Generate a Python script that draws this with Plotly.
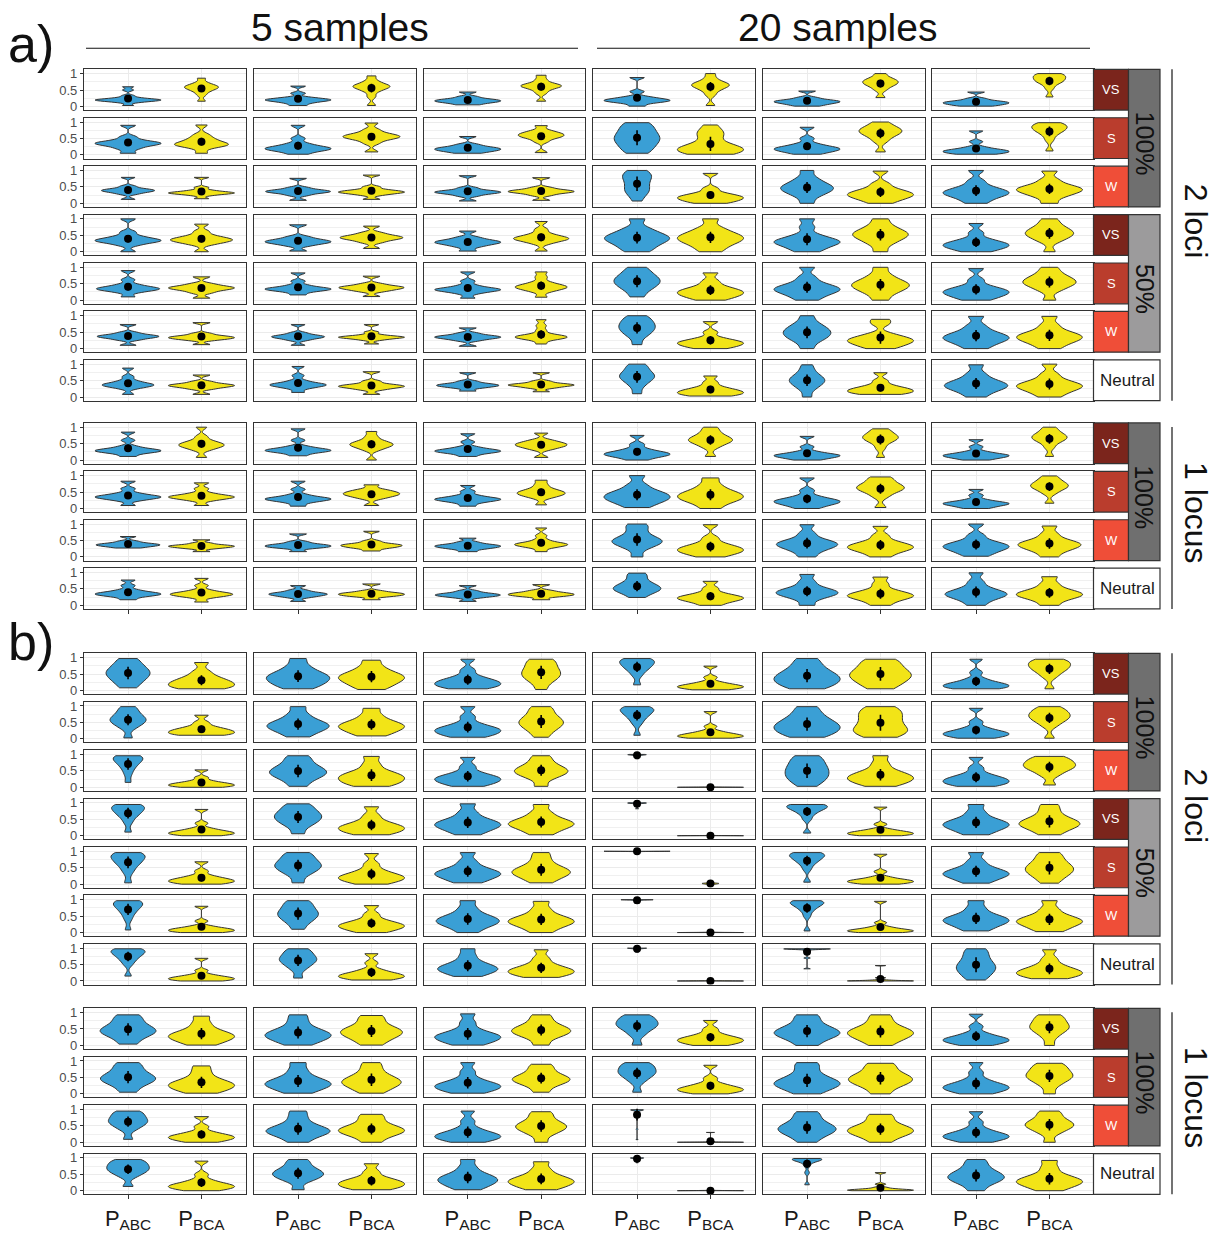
import numpy as np
import plotly.graph_objects as go

W, H = 1215, 1237

# ---------------- labels ----------------
SAMPLE_SIZES = ["5 samples", "20 samples"]
PANEL_LABELS = ["a)", "b)"]
LOCI_LABELS = ["2 loci", "1 locus"]
STRENGTH_2LOCI = ["VS", "S", "W", "VS", "S", "W", "Neutral"]
MIGRATION_2LOCI = [("100%", 0, 2), ("50%", 3, 5)]
STRENGTH_1LOCUS = ["VS", "S", "W", "Neutral"]
MIGRATION_1LOCUS = [("100%", 0, 2)]
X_TICKS = ["P<sub>ABC</sub>", "P<sub>BCA</sub>"]

# ---------------- data (values in hundredths, representative draws per violin) ----------------
# a) 2 loci : rows VS100, S100, W100, VS50, S50, W50, Neutral ; 6 columns
A2_ABC = [
    ["3 12 15 17 18 19 20 21 22 24 27 33 50 60", "3 10 14 17 19 20 22 24 28 40 62", "5 10 13 15 17 19 21 24 30 44", "1 10 14 16 18 20 22 25 30 45 88", "1 6 9 12 14 16 18 21 27 47", "1 4 7 9 11 13 15 18 24 44"],
    ["5 18 25 30 33 35 37 40 45 55 90", "2 10 14 17 19 21 24 28 35 50 90", "5 10 13 15 18 20 22 26 32 56", "5 15 25 35 42 48 55 62 70 80 90 98", "2 8 12 15 18 20 23 27 34 50 84", "2 4 7 9 11 13 15 18 24 40 73"],
    ["12 28 33 36 38 40 42 45 52 79", "9 24 30 33 35 37 39 42 48 76", "7 22 28 31 33 35 37 40 47 84", "7 28 35 42 52 62 72 80 86 92 100", "0 20 30 37 42 47 52 58 66 78 100", "0 12 20 26 30 34 38 44 52 68 100"],
    ["0 20 27 31 33 35 38 42 48 60 100", "2 18 24 27 30 32 35 39 46 82", "2 15 21 25 28 30 33 37 44 63", "0 12 22 30 36 41 46 52 60 72 100", "0 10 18 24 28 32 36 42 52 75 100", "0 7 12 16 20 23 27 32 40 58 86"],
    ["10 24 29 32 34 36 38 42 48 62 90", "16 25 29 32 33 35 37 40 46 58 83", "6 20 26 29 31 33 35 38 45 58 86", "10 28 38 46 52 58 64 70 78 88 100", "0 12 20 26 31 35 39 45 54 70 100", "0 8 14 19 23 27 31 36 44 62 96"],
    ["10 26 31 34 36 38 40 43 49 73", "10 25 30 33 35 37 39 42 48 73", "7 24 29 32 34 36 38 41 47 63", "12 35 45 53 59 65 71 77 84 92 100", "0 20 30 37 43 49 55 61 69 80 100", "0 12 20 26 31 35 40 46 55 70 98"],
    ["8 26 31 34 36 38 40 44 50 62 88", "14 26 31 34 36 38 40 43 50 65 93", "18 27 31 33 35 37 39 42 48 74", "10 32 44 52 58 63 68 74 82 92 100", "0 22 33 40 46 51 56 62 70 82 98", "0 14 22 28 33 37 42 48 57 72 98"],
]
A2_BCA = [
    ["16 35 45 50 55 57 60 62 66 72 86", "3 30 45 52 57 60 62 65 70 78 93", "16 40 50 56 60 62 64 67 72 82 95", "3 35 48 55 60 64 67 70 75 85 100", "27 50 60 66 70 74 78 82 88 100", "29 55 68 74 78 82 86 90 94 98 100"],
    ["5 22 28 30 32 35 40 45 52 62 91", "9 35 45 50 53 56 58 62 67 77 97", "7 40 50 54 58 61 64 68 74 89", "2 6 10 13 16 19 23 28 35 55 65 72 91", "9 40 52 60 65 70 74 78 83 90 100", "12 45 60 68 74 78 82 86 90 94 98"],
    ["14 24 28 30 31 32 34 36 40 48 79", "12 25 30 32 34 36 38 42 50 86", "9 24 30 33 35 37 39 42 48 78", "0 5 9 13 16 19 22 26 32 45 91", "0 10 16 21 25 29 33 38 46 60 98", "0 18 27 33 38 42 46 51 58 72 98"],
    ["0 22 28 32 35 37 40 44 50 62 84", "10 28 35 39 42 44 47 51 58 78", "2 25 32 36 39 41 44 48 55 68 92", "0 14 24 31 37 42 47 53 61 73 100", "0 22 33 41 47 52 57 63 70 82 100", "0 30 40 47 52 57 62 68 75 86 100"],
    ["6 22 29 33 36 38 40 44 50 71", "11 26 31 34 37 39 41 44 50 73", "9 26 32 36 39 41 44 48 55 70 86", "0 8 13 18 22 26 30 35 43 58 83", "0 18 28 35 41 46 51 57 65 78 100", "0 28 39 46 51 56 61 67 74 85 100"],
    ["12 25 29 31 33 35 37 40 46 79", "14 26 30 32 34 35 36 38 42 50 73", "14 27 31 33 35 37 39 42 55 70 88", "0 5 9 13 16 19 22 26 33 50 82", "0 8 14 19 23 27 31 36 45 75 89", "0 13 21 27 32 37 41 47 56 72 98"],
    ["8 24 29 32 34 36 38 41 47 67", "8 22 27 30 32 34 36 40 48 77", "16 27 31 34 36 37 39 42 48 74", "3 6 9 12 15 18 21 25 32 45 64", "8 11 14 17 20 23 26 30 37 50 74", "0 12 20 26 31 35 39 45 54 70 100"],
]
# a) 1 locus : rows VS, S, W, Neutral
A1_ABC = [
    ["11 20 24 26 28 30 32 35 42 60 85", "13 21 25 27 29 31 33 36 42 60 95", "11 19 23 25 27 29 31 34 40 55 80", "0 8 12 15 18 20 23 27 34 48 75", "0 5 8 11 13 15 17 20 26 40 72", "0 5 8 11 13 15 17 20 26 40 62"],
    ["9 24 29 32 34 36 38 41 47 60 83", "7 18 23 26 28 30 32 35 42 58 83", "7 17 22 25 27 29 31 34 40 52 70", "3 15 22 28 33 38 43 49 57 72 100", "0 8 13 17 20 23 26 30 38 55 93", "0 5 9 12 14 16 18 21 27 40 58"],
    ["27 31 33 35 37 38 40 43 48 62", "16 26 29 31 33 35 37 40 46 70", "16 24 27 30 32 34 36 39 45 57", "0 25 35 41 46 50 55 62 75 90 100", "0 15 24 30 35 39 43 48 56 72 98", "2 12 19 25 29 33 37 42 50 66 100"],
    ["17 26 30 32 34 36 38 41 47 60 77", "12 24 28 31 33 35 37 40 46 60", "12 23 27 29 31 33 35 38 44 60", "24 36 42 47 51 55 60 66 75 88 98", "0 18 27 32 36 40 44 49 57 72 94", "0 14 22 28 32 36 40 46 55 72 99"],
]
A1_BCA = [
    ["8 30 37 41 44 47 50 54 60 72 100", "0 30 37 42 45 48 51 55 61 72 87", "8 32 38 42 45 48 51 55 61 82", "11 38 48 54 58 62 66 71 78 88 100", "8 35 50 58 63 67 71 75 80 88 95", "11 38 52 59 64 68 72 76 82 90 100"],
    ["9 24 29 32 34 36 38 41 47 60 78", "9 30 36 40 43 46 49 53 58 72", "11 32 38 42 45 48 51 55 61 72 86", "0 15 23 29 34 39 44 50 58 72 93", "3 35 47 54 59 63 67 72 79 88 96", "16 45 55 61 65 69 73 77 83 90 99"],
    ["16 25 28 30 32 33 35 37 42 52", "18 26 29 32 34 36 38 41 48 78", "16 28 32 35 37 39 41 44 52 65 88", "0 8 13 17 21 25 29 34 42 58 98", "0 12 19 24 28 32 36 41 49 65 93", "0 15 23 29 34 38 42 47 55 70 94"],
    ["10 24 28 31 33 35 37 40 46 60 82", "17 26 29 31 33 35 37 39 44 65", "17 26 29 31 33 35 37 40 45 63", "0 9 14 18 21 24 27 31 38 52 73", "0 12 19 24 28 31 35 40 48 65 86", "0 14 22 27 31 35 39 44 52 66 87"],
]
# b) 2 loci
B2_ABC = [
    ["8 22 32 40 47 53 59 66 74 85 97", "5 15 22 29 35 40 46 52 61 75 97", "5 10 14 18 22 26 30 35 44 62 95", "17 45 58 66 72 77 82 87 91 95 97", "5 14 22 29 35 41 48 56 66 80 97", "5 7 10 13 16 19 22 27 36 55 95"],
    ["3 32 42 49 54 59 64 70 78 88 98", "6 18 26 32 37 42 47 53 62 76 98", "5 11 16 21 25 29 33 38 48 68 98", "11 45 58 67 73 79 84 88 92 95 98", "5 14 22 29 35 41 48 56 66 80 98", "2 6 10 13 16 19 22 27 35 52 93"],
    ["15 40 55 65 72 78 83 88 92 95 96", "3 20 30 37 43 48 54 61 70 83 96", "3 10 15 20 24 28 32 37 46 64 91", "87 95 97 98 98 99 99 99 100 100 100", "3 18 26 34 42 50 58 66 76 88 96", "3 8 12 16 20 24 28 33 42 60 91"],
    ["11 40 55 63 70 75 80 85 89 93 95", "6 28 38 46 52 58 64 70 78 88 97", "3 14 21 27 32 36 41 47 56 72 97", "82 95 97 98 99 99 99 100 100 100 100", "8 50 64 72 78 82 86 89 92 94 95", "3 14 21 27 32 36 41 47 56 72 95"],
    ["4 35 50 60 67 73 79 84 89 93 96", "4 28 38 46 52 57 63 70 78 88 96", "4 13 20 26 30 34 39 45 54 70 96", "99 100 100 100 100 100 100 100 100 100 100", "6 45 60 68 74 79 84 88 91 94 96", "3 13 20 26 30 34 39 45 54 70 96"],
    ["8 40 55 65 72 78 83 88 92 95 97", "10 28 38 46 52 58 64 71 80 90 97", "0 14 22 28 33 38 43 49 58 74 97", "90 96 98 99 99 100 100 100 100 100 100", "5 50 65 73 79 84 88 91 94 96 97", "5 16 24 30 35 39 44 50 59 75 97"],
    ["15 50 62 70 76 81 86 90 93 96 98", "9 35 46 54 60 65 70 76 83 92 98", "14 22 28 33 37 41 46 52 62 78 98", "88 95 97 98 99 99 100 100 100 100 100", "37 70 92 96 97 97 98 98 98 98 98", "3 15 25 34 40 46 54 64 76 90 98"],
]
B2_BCA = [
    ["5 8 12 17 21 25 30 36 44 58 85", "3 14 22 29 35 40 45 51 59 72 92", "3 25 35 42 49 55 62 70 80 90 95", "2 5 8 10 12 14 17 20 26 40 74", "5 18 28 36 43 49 56 64 74 86 95", "5 40 52 60 66 71 76 81 86 91 95"],
    ["11 13 16 19 22 25 28 32 38 50 72", "9 18 25 31 36 40 45 51 59 73 93", "5 22 32 40 46 52 58 65 75 88 98", "2 4 6 8 10 12 15 18 24 38 83", "5 15 22 28 36 46 58 68 78 88 98", "2 38 50 57 63 68 73 78 84 91 98"],
    ["0 2 4 6 8 10 12 15 20 30 53", "3 10 16 22 27 32 37 43 52 70 94", "3 25 35 41 46 51 56 62 70 82 96", "0 0 0 0 0 0 0 0 0 0 1", "3 12 18 23 28 33 38 44 54 72 96", "7 35 47 55 60 65 70 75 81 88 94"],
    ["0 3 5 7 9 11 14 17 23 38 80", "3 9 14 19 23 27 31 37 46 62 88", "3 15 23 29 34 38 43 49 58 72 95", "0 0 0 0 0 0 0 0 0 0 2", "0 2 4 6 8 10 12 15 20 35 87", "3 16 24 30 35 40 45 52 62 78 95"],
    ["0 3 6 8 11 13 16 20 26 40 68", "0 7 12 16 20 24 28 34 44 62 93", "4 16 24 30 35 40 45 52 62 78 96", "0 0 1 1 2 2 2 3 3 4 5", "0 3 5 7 9 11 13 16 22 38 91", "3 18 28 36 42 48 55 62 72 85 96"],
    ["0 2 4 6 8 10 12 15 20 35 80", "0 7 12 16 20 23 27 32 40 56 82", "0 13 21 27 32 36 41 47 56 72 95", "0 0 0 0 0 0 0 0 0 0 1", "0 2 3 5 6 8 10 13 18 30 95", "3 13 21 27 32 36 41 47 56 72 97"],
    ["0 2 4 6 8 10 12 15 20 32 69", "3 7 10 13 16 19 22 27 35 55 83", "11 17 22 26 30 34 38 44 54 70 95", "0 0 0 0 0 0 0 0 0 0 1", "0 0 0 0 0 1 1 2 3 10 47", "7 13 18 22 26 30 35 41 51 68 95"],
]
# b) 1 locus
B1_ABC = [
    ["4 20 30 37 42 47 53 60 70 82 93", "1 12 19 25 30 35 40 47 57 74 93", "1 9 15 20 25 29 33 39 50 70 96", "1 30 43 52 58 63 68 74 80 88 93", "0 15 24 31 36 41 47 54 63 78 93", "0 6 10 14 17 20 24 29 38 58 95"],
    ["5 22 32 39 44 49 55 62 72 84 95", "2 12 19 25 29 34 39 46 56 73 95", "2 9 14 19 23 27 31 37 48 68 95", "5 35 47 55 61 66 71 77 84 90 95", "0 12 20 26 31 36 42 50 62 80 95", "0 7 12 16 20 24 28 34 45 66 95"],
    ["9 38 48 55 60 65 70 76 83 90 95", "0 14 22 28 33 37 42 49 59 76 95", "0 7 11 15 19 23 27 33 44 65 95", "8 40 92 96 97 98 98 99 99 99 99", "0 16 25 32 38 43 49 56 66 80 93", "0 7 11 15 19 22 26 32 42 62 93"],
    ["13 42 52 58 63 68 73 78 84 90 95", "3 28 37 43 48 53 58 64 72 84 95", "3 13 20 26 31 36 41 47 56 72 95", "85 93 96 97 98 99 99 100 100 100 100", "18 55 75 85 90 93 95 96 97 98 98", "0 18 27 34 39 44 50 57 66 80 95"],
]
B1_BCA = [
    ["1 10 17 22 27 31 36 42 52 68 89", "1 15 24 31 37 42 47 54 63 78 91", "1 20 30 36 41 46 51 57 65 78 93", "0 5 9 13 16 19 23 27 35 50 76", "0 14 22 29 35 40 45 52 61 76 93", "0 25 38 46 52 57 63 70 78 87 93"],
    ["2 10 16 21 26 30 35 41 51 67 85", "2 14 22 29 34 39 45 52 62 78 95", "5 22 31 37 42 46 51 57 66 78 90", "0 5 8 11 14 17 20 25 32 48 87", "0 18 28 35 41 46 52 59 68 82 93", "0 25 37 45 51 56 62 69 77 86 93"],
    ["0 5 9 12 15 18 21 25 32 48 78", "0 15 23 29 34 38 43 49 58 72 85", "0 22 32 39 44 49 54 60 69 82 93", "0 0 0 0 0 0 0 0 1 2 30", "0 14 22 28 33 38 43 49 58 72 85", "0 26 37 44 49 54 59 65 73 85 95"],
    ["0 5 8 11 14 17 20 25 33 50 90", "3 8 13 17 21 25 29 34 42 58 82", "3 11 17 23 27 31 36 42 51 66 88", "0 0 0 0 0 0 0 0 0 0 1", "0 0 1 1 2 3 4 6 10 20 55", "0 10 17 22 27 31 36 42 52 70 92"],
]

# ---------------- styling ----------------
FONT = "Liberation Sans, Arial, Helvetica, sans-serif"
BLUE = "#3A9FD5"
YELLOW = "#F2E417"
OUTLINE = "#333333"
STRIP_COL = {"VS": "#7B251C", "S": "#BA3D2D", "W": "#EF4E38", "Neutral": "#FFFFFF"}
GROUP_COL = {"100%": "#6F6F6F", "50%": "#9C9B9C"}

COL_LEFT = [84, 254, 423.7, 593, 763, 932]
PW, PH, PITCH = 161.5, 41, 48.7
N_EFF = 60  # smoothing reference size for the kernel bandwidth
BLOCKS = [
    (A2_ABC, A2_BCA, 66.7, STRENGTH_2LOCI, MIGRATION_2LOCI, LOCI_LABELS[0], 219, False),
    (A1_ABC, A1_BCA, 422.3, STRENGTH_1LOCUS, MIGRATION_1LOCUS, LOCI_LABELS[1], 512, True),
    (B2_ABC, B2_BCA, 654.0, STRENGTH_2LOCI, MIGRATION_2LOCI, LOCI_LABELS[0], 807, False),
    (B1_ABC, B1_BCA, 1011.0, STRENGTH_1LOCUS, MIGRATION_1LOCUS, LOCI_LABELS[1], 1100, True),
]


def fx(px):
    return px / W


def fy(py):
    return 1 - py / H


def vals(s):
    return np.sort(np.array(s.split(), dtype=float) / 100.0)


def bandwidth(v):
    sd = v.std(ddof=1)
    q1, q3 = np.percentile(v, [25, 75])
    bw = 1.059 * min(sd, (q3 - q1) / 1.349) * N_EFF ** -0.2
    return max(bw, (v.max() - v.min()) / 100, 0.004)


def peak_density(v, bw):
    t = np.linspace(v.min(), v.max(), 500)
    d = np.exp(-0.5 * ((t[:, None] - v[None, :]) / bw) ** 2).sum(1) / (len(v) * bw * np.sqrt(2 * np.pi))
    return d.max()


def ann(x, y, text, size, color, angle=0, xanchor="center"):
    return dict(x=fx(x), y=fy(y), xref="paper", yref="paper", text=text, showarrow=False,
                textangle=angle, xanchor=xanchor, yanchor="middle",
                font=dict(family=FONT, size=size, color=color))


fig = go.Figure()
layout = {}
shapes = []
annotations = []
n = 0
total_rows = sum(len(b[0]) for b in BLOCKS)
g = 0
for bi, (abc_rows, bca_rows, top0, strengths, migr, loci_lab, loci_y, tick_bottom) in enumerate(BLOCKS):
    nrows = len(abc_rows)
    for r in range(nrows):
        top = top0 + r * PITCH
        last_row = (g == total_rows - 1)
        for c in range(6):
            n += 1
            xs = "" if n == 1 else str(n)
            left = COL_LEFT[c]
            layout["xaxis" + xs] = dict(
                domain=[fx(left), fx(left + PW)], anchor="y" + xs, type="linear",
                range=[-0.6, 1.6], tickvals=[0, 1], ticktext=X_TICKS,
                showticklabels=last_row, ticks="outside" if (tick_bottom and r == nrows - 1) else "",
                ticklen=4, tickwidth=1, tickcolor=OUTLINE,
                tickfont=dict(family=FONT, size=22, color="#1A1A1A"),
                showgrid=True, gridcolor="#EBEBEB", gridwidth=1, zeroline=False,
                showline=True, mirror=True, linecolor=OUTLINE, linewidth=1.2, fixedrange=True)
            layout["yaxis" + xs] = dict(
                domain=[fy(top + PH), fy(top)], anchor="x" + xs, range=[-0.11, 1.13],
                tickvals=[0, 0.5, 1], ticktext=["0", "0.5", "1"],
                showticklabels=(c == 0), ticks="outside" if c == 0 else "",
                ticklen=3, tickwidth=1, tickcolor=OUTLINE,
                tickfont=dict(family=FONT, size=13, color="#4D4D4D"),
                showgrid=True, gridcolor="#EBEBEB", gridwidth=1, zeroline=False,
                minor=dict(tickvals=[0.25, 0.75], showgrid=True, gridcolor="#F0F0F0", gridwidth=0.6, ticks=""),
                showline=True, mirror=True, linecolor=OUTLINE, linewidth=1.2, fixedrange=True)

            series = [vals(abc_rows[r][c]), vals(bca_rows[r][c])]
            bws = [bandwidth(v) for v in series]
            peaks = [peak_density(v, b) for v, b in zip(series, bws)]
            pmax = max(peaks)
            means, errs = [], []
            for k, (v, bw, pk, col) in enumerate(zip(series, bws, peaks, [BLUE, YELLOW])):
                fig.add_trace(go.Violin(
                    y=v, x0=k, width=0.9 * pk / pmax, bandwidth=bw, spanmode="hard",
                    scalemode="width", points=False, fillcolor=col,
                    line=dict(color=OUTLINE, width=1), xaxis="x" + xs, yaxis="y" + xs,
                    hoverinfo="skip", showlegend=False, opacity=1,
                    box_visible=False, meanline_visible=False))
                inner = v[1:-1]
                means.append(v.mean())
                errs.append(inner.std())
            fig.add_trace(go.Scatter(
                x=[0, 1], y=means, mode="markers", xaxis="x" + xs, yaxis="y" + xs,
                marker=dict(color="black", size=8),
                error_y=dict(type="data", array=errs, color="black", thickness=1.6, width=0),
                hoverinfo="skip", showlegend=False))
        # strength strip
        lab = strengths[r]
        if lab == "Neutral":
            shapes.append(dict(type="rect", xref="paper", yref="paper", x0=fx(1093.5), x1=fx(1160),
                               y0=fy(top + PH), y1=fy(top), fillcolor="#FFFFFF",
                               line=dict(color=OUTLINE, width=1.2)))
            annotations.append(ann(1127, top + PH / 2, lab, 17, "#1A1A1A"))
        else:
            shapes.append(dict(type="rect", xref="paper", yref="paper", x0=fx(1093.5), x1=fx(1128.5),
                               y0=fy(top + PH), y1=fy(top), fillcolor=STRIP_COL[lab],
                               line=dict(color=OUTLINE, width=1.2)))
            annotations.append(ann(1111, top + PH / 2, lab, 13, "#FFFFFF"))
        g += 1
    # migration strips
    for lab, r0, r1 in migr:
        t0 = top0 + r0 * PITCH
        t1 = top0 + r1 * PITCH + PH
        shapes.append(dict(type="rect", xref="paper", yref="paper", x0=fx(1128.5), x1=fx(1160),
                           y0=fy(t1), y1=fy(t0), fillcolor=GROUP_COL[lab],
                           line=dict(color=OUTLINE, width=1.2)))
        annotations.append(ann(1144.5, (t0 + t1) / 2 + 5, lab, 25, "#111111", angle=90))
    # loci bracket
    b_top = top0
    b_bot = top0 + (nrows - 1) * PITCH + PH
    shapes.append(dict(type="line", xref="paper", yref="paper", x0=fx(1172), x1=fx(1172),
                       y0=fy(b_bot), y1=fy(b_top + (4 if nrows == 4 else 0)),
                       line=dict(color="#444444", width=1.5)))
    annotations.append(ann(1196, loci_y, loci_lab, 32, "#111111", angle=90))

# header
for lab, x0, x1, xc in zip(SAMPLE_SIZES, [86, 597], [578, 1090], [340, 838]):
    shapes.append(dict(type="line", xref="paper", yref="paper", x0=fx(x0), x1=fx(x1),
                       y0=fy(45.5), y1=fy(45.5), line=dict(color="#111111", width=1.2)))
    annotations.append(ann(xc, 25, lab, 39, "#111111"))
for lab, yc in zip(PANEL_LABELS, [41, 643]):
    annotations.append(ann(6, yc, lab, 52, "#111111", xanchor="left"))

fig.update_layout(**layout)
fig.update_layout(
    width=W, height=H, margin=dict(l=0, r=0, t=0, b=0),
    paper_bgcolor="white", plot_bgcolor="white", showlegend=False,
    violinmode="overlay", shapes=shapes, annotations=annotations,
    font=dict(family=FONT))
fig.write_html("out.html")
